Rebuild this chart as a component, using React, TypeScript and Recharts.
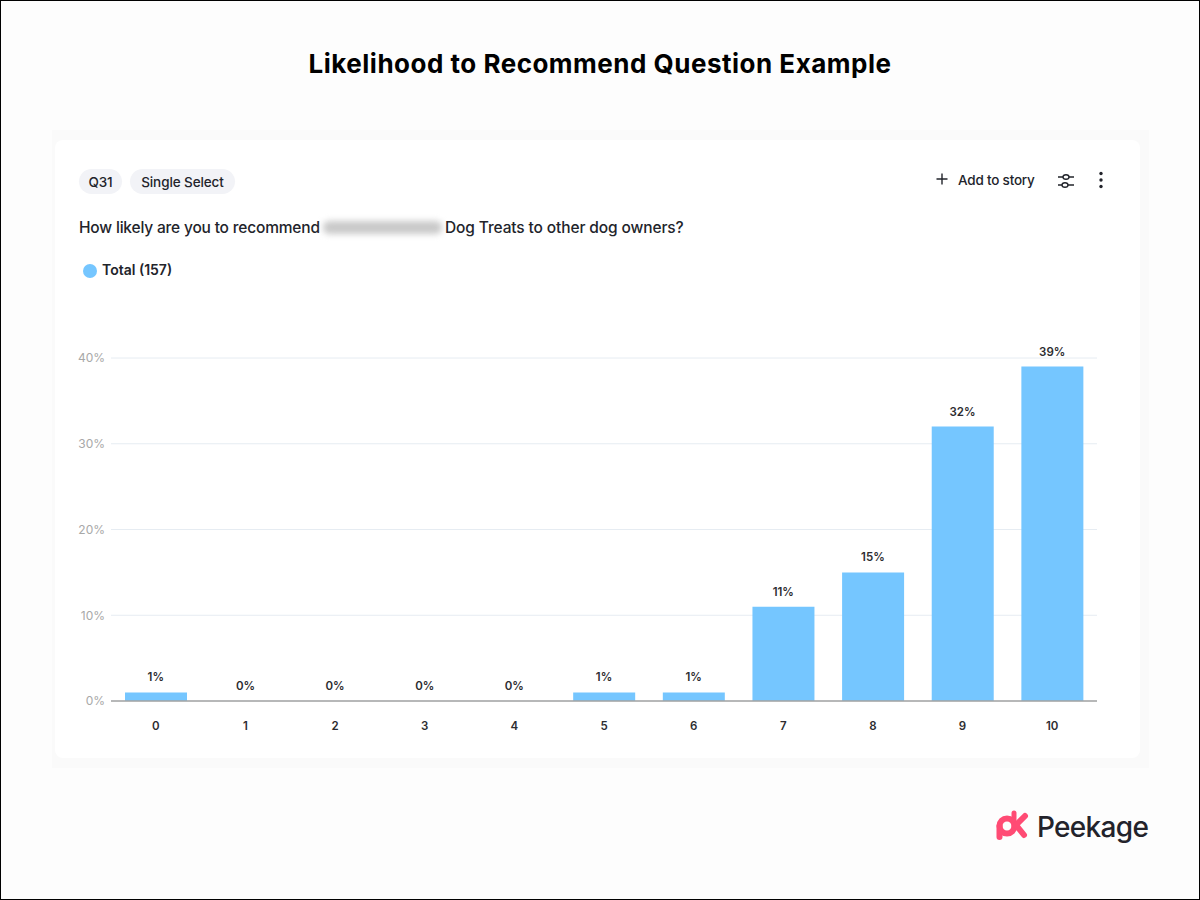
import React from "react";
import { ComposedChart, Bar, Line, XAxis, YAxis, CartesianGrid, LabelList, ReferenceLine } from "recharts";

const categories = ["0", "1", "2", "3", "4", "5", "6", "7", "8", "9", "10"];
const totals = [1, 0, 0, 0, 0, 1, 1, 11, 15, 32, 39];
const yTicks = [0, 10, 20, 30, 40];
const tableData = categories.map((c, i) => ({ score: c, total: totals[i] }));

const font = "Inter, 'Noto Sans', sans-serif";
const ink = "#22242b";
const abs = (left: number, top: number, extra: React.CSSProperties = {}): React.CSSProperties => ({
  position: "absolute", left, top, whiteSpace: "nowrap", ...extra,
});

function Pill({ left, width, text }: { left: number; width: number; text: string }) {
  return (
    <div style={abs(left, 169, { width, height: 25, borderRadius: 13, background: "#f2f3f7", color: ink, fontSize: 13.5, fontWeight: 500, lineHeight: "27px", textAlign: "center", letterSpacing: -0.1 })}>
      {text}
    </div>
  );
}

export default function App() {
  return (
    <div style={{ position: "absolute", left: 0, top: 0, width: 1200, height: 900, boxSizing: "border-box", border: "1px solid #000", background: "#fdfdfd", overflow: "hidden", fontFamily: font }}>
      <div style={{ position: "absolute", left: -1, top: -1, width: 1200, height: 900 }}>
        <div style={abs(0, 46, { width: 1200, textAlign: "center", fontSize: 26, fontWeight: 700, color: "#000", lineHeight: "36px", fontFamily: "Inter, sans-serif", letterSpacing: 0.5 })}>
          Likelihood to Recommend Question Example
        </div>
        <div style={abs(52, 130, { width: 1097, height: 638, background: "#fafafa" })} />
        <div style={abs(55, 140, { width: 1085, height: 618, background: "#fff", borderRadius: 8 })} />

        <Pill left={79} width={43} text="Q31" />
        <Pill left={130} width={105} text="Single Select" />

        <div style={abs(79, 217, { fontSize: 15.5, fontWeight: 500, color: ink, lineHeight: "21px", letterSpacing: -0.18 })}>
          How likely are you to recommend
        </div>
        <div style={abs(323, 221, { width: 119, height: 13, background: "#c9c9c9", borderRadius: 6, filter: "blur(3px)" })} />
        <div style={abs(445, 217, { fontSize: 15.5, fontWeight: 500, color: ink, lineHeight: "21px", letterSpacing: -0.12 })}>
          Dog Treats to other dog owners?
        </div>

        <div style={abs(83, 264, { width: 14, height: 14, borderRadius: 7, background: "#75c6ff" })} />
        <div style={abs(102, 261, { fontSize: 14, fontWeight: 600, color: ink, lineHeight: "18px" })}>Total (157)</div>

        <svg style={abs(935, 172)} width={14} height={14}>
          <path d="M7 1.5V12.5M1.5 7H12.5" stroke={ink} strokeWidth={1.4} fill="none" />
        </svg>
        <div style={abs(958, 171, { fontSize: 13.5, fontWeight: 500, color: ink, lineHeight: "18px", letterSpacing: -0.2 })}>Add to story</div>
        <svg style={abs(1056, 171)} width={20} height={20} fill="none" stroke={ink} strokeWidth={1.4}>
          <path d="M2 6H7M13 6H18M2 14H6M12 14H18" />
          <ellipse cx={10} cy={6} rx={3} ry={2.3} />
          <ellipse cx={9} cy={14} rx={3} ry={2.3} />
        </svg>
        <svg style={abs(1094, 170)} width={14} height={20} fill={ink}>
          <circle cx={7} cy={3.5} r={1.7} />
          <circle cx={7} cy={10} r={1.7} />
          <circle cx={7} cy={16.5} r={1.7} />
        </svg>

        <div style={abs(0, 0)}>
          <ComposedChart width={1200} height={900} data={tableData} margin={{ top: 358, right: 103, bottom: 159, left: 71 }} barCategoryGap={0}>
            <CartesianGrid horizontal vertical={false} stroke="#e6ecf2" strokeWidth={1} />
            <XAxis dataKey="score" height={40} axisLine={false} tickLine={false} interval={0} tick={{ fontSize: 11.5, fontWeight: 600, fill: "#2c2c30", fontFamily: font }} tickMargin={15} />
            <YAxis width={40} domain={[0, 40]} ticks={yTicks} axisLine={false} tickLine={false} tickFormatter={(v: number) => `${v}%`} tick={{ fontSize: 12, fill: "#a8a8a8", fontFamily: font, dx: 2 }} />
            <Bar dataKey="total" fill="#75c6ff" barSize={62} isAnimationActive={false} />
            <ReferenceLine y={0} stroke="#a3a3a3" strokeWidth={1.5} />
            <Line dataKey="total" stroke="none" dot={false} activeDot={false} isAnimationActive={false}>
              <LabelList dataKey="total" position="top" offset={11} formatter={(v: number) => `${v}%`} style={{ fontSize: 11.5, fontWeight: 600, fill: "#2c2c30", fontFamily: font }} />
            </Line>
          </ComposedChart>
        </div>

        <svg style={abs(995, 808)} width={36} height={34} fill="none" stroke="#ff4b74" strokeLinecap="round" strokeLinejoin="round">
          <circle cx={12} cy={18} r={7.5} strokeWidth={6} />
          <path d="M4.5 18V29" strokeWidth={6} />
          <path d="M19 5V20" strokeWidth={5} />
          <path d="M30 8L21 17L29 27" strokeWidth={6} />
        </svg>
        <div style={abs(1037, 808, { fontSize: 28, fontWeight: 500, color: "#23232b", lineHeight: "38px", letterSpacing: -0.7 })}>Peekage</div>
      </div>
    </div>
  );
}
